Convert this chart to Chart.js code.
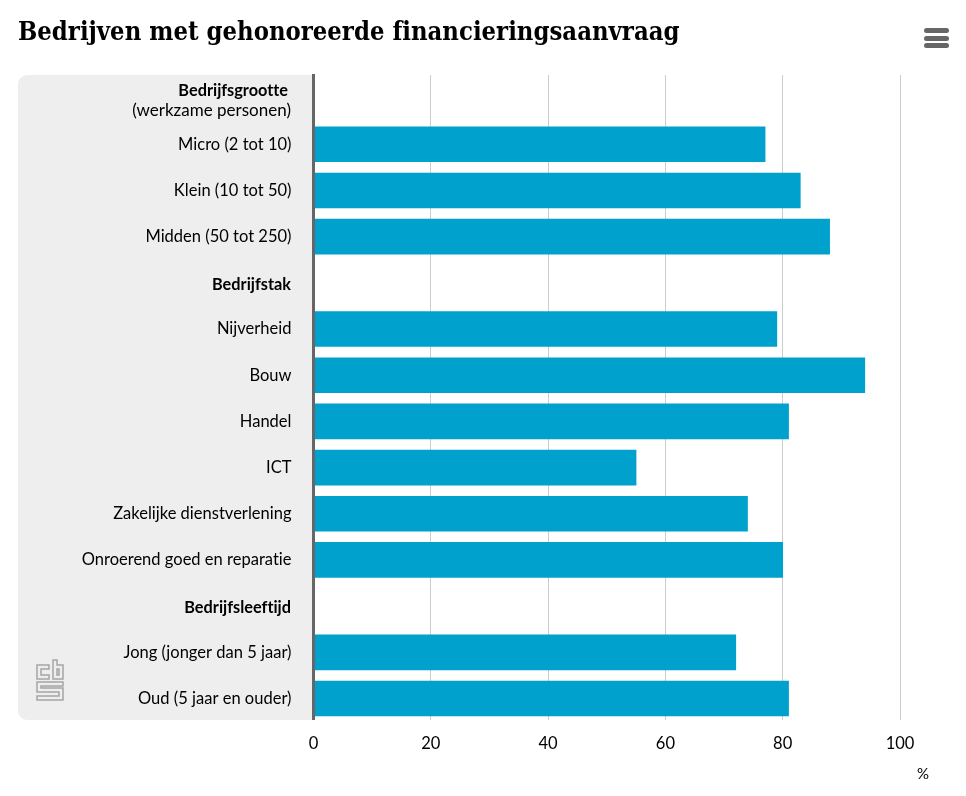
<!DOCTYPE html>
<html>
<head>
<meta charset="utf-8">
<title>Bedrijven met gehonoreerde financieringsaanvraag</title>
<script src="https://cdn.jsdelivr.net/npm/chart.js@4"></script>
<style>
    html, body { margin: 0; padding: 0; background: #fff; }
    #wrap { width: 966px; height: 796px; }
</style>
</head>
<body>
<div id="wrap"><canvas id="financiering" width="966" height="796"></canvas></div>
<script>
// Rows in chart order, headings have no value
const rows = [
    { label: 'Bedrijfsgrootte', value: null, heading: true },
    { label: 'Micro (2 tot 10)', value: 77 },
    { label: 'Klein (10 tot 50)', value: 83 },
    { label: 'Midden (50 tot 250)', value: 88 },
    { label: 'Bedrijfstak', value: null, heading: true },
    { label: 'Nijverheid', value: 79 },
    { label: 'Bouw', value: 94 },
    { label: 'Handel', value: 81 },
    { label: 'ICT', value: 55 },
    { label: 'Zakelijke dienstverlening', value: 74 },
    { label: 'Onroerend goed en reparatie', value: 80 },
    { label: 'Bedrijfsleeftijd', value: null, heading: true },
    { label: 'Jong (jonger dan 5 jaar)', value: 72 },
    { label: 'Oud (5 jaar en ouder)', value: 81 }
];

const labelFont = 'Lato, sans-serif';
const panelBottom = 720;

const panelPlugin = {
    id: 'panel',
    beforeDraw(chart) {
        const { ctx, chartArea } = chart;
        // a tiny spacing switches off Lato's tt/ti ligatures
        ctx.letterSpacing = '0.01px';
        ctx.save();
        ctx.fillStyle = '#eeeeee';
        ctx.beginPath();
        ctx.roundRect(18, chartArea.top, chartArea.left - 18, panelBottom - chartArea.top, [9, 0, 0, 9]);
        ctx.fill();
        ctx.restore();
    }
};

const extrasPlugin = {
    id: 'extras',
    afterDraw(chart) {
        const { ctx, chartArea } = chart;
        const yScale = chart.scales.y;
        ctx.save();

        // row pitch runs slightly past the panel, so trim axis and grid there
        ctx.fillStyle = '#fff';
        ctx.fillRect(0, panelBottom, 966, chartArea.bottom - panelBottom + 2);

        ctx.fillStyle = '#000';
        ctx.textBaseline = 'middle';
        ctx.textAlign = 'left';
        ctx.font = 'bold 25.4px "DejaVu Serif Condensed", "DejaVu Serif", serif';
        ctx.fillText('Bedrijven met gehonoreerde financieringsaanvraag', 18, 33);

        ctx.textAlign = 'right';
        ctx.font = 'bold 16.3px ' + labelFont;
        ctx.fillText('Bedrijfsgrootte', 288, 91);
        ctx.font = '17px ' + labelFont;
        ctx.fillText('(werkzame personen)', 291, 111);

        // the other headings sit a little below their row centre
        ctx.font = 'bold 16.3px ' + labelFont;
        rows.forEach((row, i) => {
            if (row.heading && i > 0) {
                ctx.fillText(row.label, 291, yScale.getPixelForValue(i) + 2);
            }
        });

        ctx.textAlign = 'center';
        ctx.font = '15px ' + labelFont;
        ctx.fillText('%', 923, 774);

        // menu icon
        ctx.fillStyle = '#666';
        [28, 36, 43].forEach(top => {
            ctx.beginPath();
            ctx.roundRect(924, top, 25, 5, 2.5);
            ctx.fill();
        });

        // cbs logo
        ctx.strokeStyle = '#a5a5a5';
        ctx.lineWidth = 1.5;
        const logo = [
            [[49, 665], [37, 665], [37, 679], [49, 679], [49, 675], [41, 675], [41, 669], [49, 669]],
            [[53, 660], [57, 660], [57, 665], [63, 665], [63, 679], [53, 679]],
            [[57, 669], [59, 669], [59, 675], [57, 675]],
            [[63, 682], [37, 682], [37, 692], [59, 692], [59, 696], [37, 696], [37, 700], [63, 700], [63, 688], [41, 688], [41, 686], [63, 686]]
        ];
        logo.forEach(path => {
            ctx.beginPath();
            path.forEach((p, i) => i ? ctx.lineTo(p[0], p[1]) : ctx.moveTo(p[0], p[1]));
            ctx.closePath();
            ctx.stroke();
        });
        ctx.restore();
    }
};

new Chart(document.getElementById('financiering'), {
    type: 'bar',
    data: {
        labels: rows.map(r => r.label),
        datasets: [{
            data: rows.map(r => r.value),
            backgroundColor: '#00a1cd',
            categoryPercentage: 1,
            barThickness: 35
        }]
    },
    options: {
        indexAxis: 'y',
        responsive: false,
        animation: false,
        layout: { padding: { top: 75, right: 66, bottom: 0, left: 0 } },
        plugins: { legend: { display: false }, tooltip: { enabled: false }, title: { display: false } },
        scales: {
            x: {
                min: 0,
                max: 100,
                afterFit(scale) { scale.height = 74.4; },
                grid: { color: '#cccccc', lineWidth: 1, drawTicks: false },
                border: { display: false },
                ticks: {
                    stepSize: 20,
                    padding: 12,
                    maxRotation: 0,
                    color: '#000',
                    font: { family: labelFont, size: 16.5 }
                }
            },
            y: {
                afterFit(scale) { scale.width = 313.5; },
                grid: { display: false, drawTicks: false },
                border: { display: true, color: '#666666', width: 3, z: 3 },
                ticks: {
                    autoSkip: false,
                    padding: 22,
                    color: '#000',
                    callback(value, index) {
                        return rows[index].heading ? '' : rows[index].label;
                    },
                    font: { family: labelFont, size: 16.5 }
                }
            }
        }
    },
    plugins: [panelPlugin, extrasPlugin]
});
</script>
</body>
</html>
